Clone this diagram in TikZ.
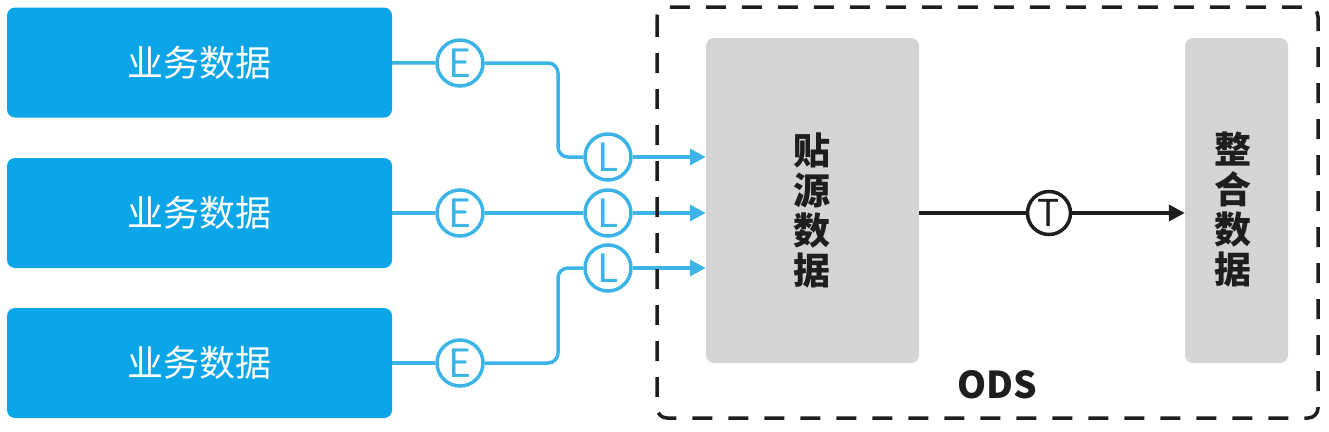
\documentclass[tikz,border=0pt]{standalone}
\usepackage{fontspec}
\setmainfont{Noto Sans CJK SC}
\usepackage{tikz}
\usetikzlibrary{arrows.meta,calc}

\definecolor{bizblue}{RGB}{12,166,232}
\definecolor{lineblue}{RGB}{60,180,230}
\definecolor{odsgray}{RGB}{212,212,212}
\definecolor{inkdark}{RGB}{30,30,30}

\tikzset{
  biz/.style={rectangle, rounded corners=8pt, fill=bizblue, text=white,
    minimum width=385pt, minimum height=110pt, font=\fontsize{36}{40}\selectfont},
  etl/.style={circle, draw=lineblue, line width=3.5pt, text=lineblue, inner sep=0pt,
    minimum size=46pt, font=\fontsize{39}{39}\selectfont},
  tfm/.style={etl, draw=inkdark, text=inkdark, minimum size=43pt, font=\fontsize{37}{37}\selectfont},
  layer/.style={rectangle, rounded corners=8pt, fill=odsgray},
  flow/.style={draw=lineblue, line width=3.5pt, rounded corners=10pt},
  flowarrow/.style={flow, -{Triangle[length=16pt,width=16pt]}},
  vtext/.style={align=center, font=\fontsize{37}{40}\selectfont\bfseries, text=inkdark}
}

\begin{document}
\begin{tikzpicture}[x=1pt,y=-1pt]

\useasboundingbox (0,0) rectangle (1329,431);

% source systems
\foreach \i/\y in {1/62.5,2/213,3/363}
    \node[biz] (b\i) at (199.5,\y) {业务数据};

\foreach \i/\y in {1/63,2/213,3/363}
    \node[etl] (e\i) at (460,\y) {E};

\foreach \i/\y in {1/157,2/213,3/268}
    \node[etl] (l\i) at (608,\y) {L};

% ODS layers
\node[layer, minimum width=213pt, minimum height=325pt] (src) at (812.5,200.5) {};
\node[layer, minimum width=103pt, minimum height=325pt] (intg) at (1236.5,200.5) {};
\node[vtext] at (812,210) {贴\\源\\数\\据};
\node[vtext] at (1233,210) {整\\合\\数\\据};

\coordinate (k1) at (558,110);
\coordinate (k3) at (558,320);

\foreach \i in {1,2,3}
    \draw[flow] (b\i) -- (e\i);

\draw[flow] (e1) -| (k1) |- (l1);
\draw[flow] (e2) -- (l2);
\draw[flow] (e3) -| (k3) |- (l3);

\foreach \i in {1,2,3}
    \draw[flowarrow] (l\i) -- (l\i -| src.west);

% transform
\node[tfm] (t) at (1049,213) {T};
\draw[inkdark, line width=3.5pt] (src.east |- t) -- (t);
\draw[inkdark, line width=3.5pt, -{Triangle[length=16pt,width=16pt]}] (t) -- (t -| intg.west);

% ODS frame
\draw[inkdark, line width=3.5pt, dash pattern=on 20pt off 16pt, rounded corners=10pt]
    (657,7) rectangle (1318,418);
\node[font=\fontsize{37}{37}\selectfont\bfseries, text=inkdark] (ods) at (997,385) {ODS};

\end{tikzpicture}
\end{document}
